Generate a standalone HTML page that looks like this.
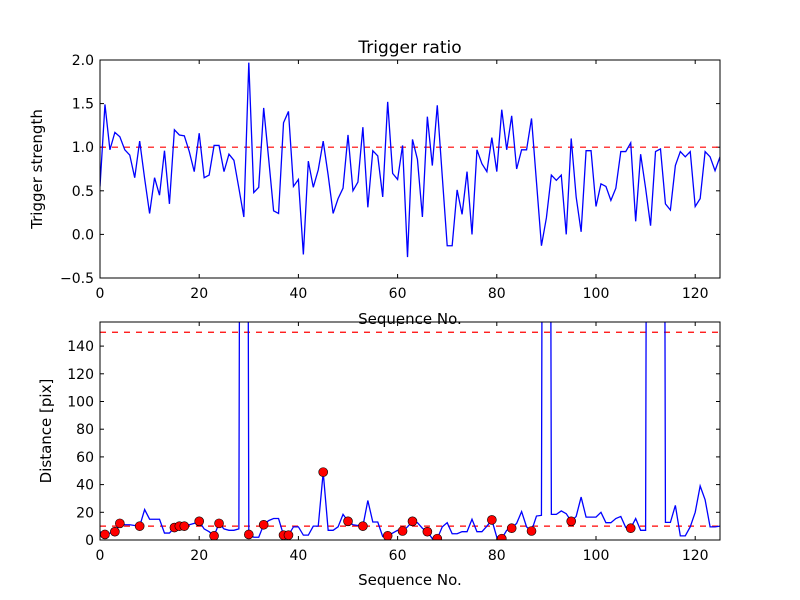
<!DOCTYPE html>
<html><head><meta charset="utf-8"><style>
body{margin:0;background:#fff;}
svg{display:block;font-family:"DejaVu Sans","Liberation Sans",sans-serif;}
</style></head><body>
<svg id="chart" width="800" height="600" viewBox="0 0 800 600" xmlns="http://www.w3.org/2000/svg">
<rect width="800" height="600" fill="#fff"/>
</svg>
<script>
const ratioValues=[0.55,1.49,0.97,1.17,1.12,0.97,0.91,0.65,1.07,0.64,0.24,0.65,0.45,0.96,0.35,1.2,1.14,1.13,0.95,0.72,1.16,0.65,0.68,1.02,1.02,0.72,0.92,0.85,0.53,0.2,1.97,0.48,0.54,1.45,0.87,0.27,0.24,1.28,1.41,0.55,0.63,-0.23,0.84,0.54,0.74,1.07,0.68,0.24,0.41,0.53,1.14,0.5,0.6,1.23,0.31,0.96,0.9,0.43,1.52,0.7,0.63,1.02,-0.26,1.09,0.86,0.2,1.35,0.79,1.48,0.67,-0.13,-0.13,0.51,0.23,0.72,0.0,0.97,0.81,0.72,1.11,0.72,1.43,0.97,1.36,0.75,0.97,0.97,1.33,0.6,-0.13,0.19,0.68,0.62,0.68,0.0,1.1,0.43,0.03,0.96,0.96,0.32,0.58,0.55,0.39,0.53,0.95,0.95,1.05,0.15,0.92,0.53,0.1,0.95,0.98,0.35,0.28,0.79,0.95,0.89,0.95,0.32,0.41,0.95,0.89,0.73,0.89];
const distValues=[6,4,5,6,12,11,11,10.5,10,22,15,15,15,5,5,9,10,10,11,12,13.5,8,6,3,12,8,7,7,8,1500,4,2,2,11,14,15.5,15.5,3.5,3.5,9.5,9.5,3.5,3.5,10,10,49,7,7,9.5,18.5,13.5,11,10.5,10,28.5,13,13,2.5,3,5,7,6.5,9.5,13.5,12.5,8.5,6,1,1,9.5,12.5,4.5,4.5,6,6,15,6,6,10,14.5,2,1,7,8.5,12,20.5,9.5,6.5,17.3,17.8,1500,18.5,18.5,21,19,13.5,17,31,16.5,16.5,16.5,20,12.5,12.5,15.5,17,9,8.5,15.5,7,7,1500,1500,1500,12.7,12.7,25,3,3,9.5,20,39,29,9.5,9.5,10];
const markerIdx=[1,3,4,8,15,16,17,20,23,24,30,33,37,38,45,50,53,58,61,63,66,68,79,81,83,87,95,107];
const xTicks=[0,20,40,60,80,100,120];
const topYTicks=[-0.5,0.0,0.5,1.0,1.5,2.0];
const botYTicks=[0,20,40,60,80,100,120,140];
const ratioThreshold=[1.0];
const distThresholds=[10,150];

const NS="http://www.w3.org/2000/svg";
const svg=document.getElementById('chart');
function el(tag,attrs,parent){const e=document.createElementNS(NS,tag);for(const k in attrs)e.setAttribute(k,attrs[k]);(parent||svg).appendChild(e);return e;}
const L=100,R=720;
const xs=v=>L+(v/125)*(R-L);
const topAx={t:60,b:278,min:-0.5,max:2.0};
const botAx={t:322,b:540,min:0,max:157.4};
const ys=(a,v)=>a.b-(v-a.min)/(a.max-a.min)*(a.b-a.t);

function axes(a,yTicks,fmt,name,clipId){
  const g=el('g',{});
  
  
  const cp=el('clipPath',{id:clipId});el('rect',{x:L,y:a.t,width:R-L,height:a.b-a.t},cp);
  xTicks.forEach(t=>{const x=xs(t);
    el('line',{x1:x,x2:x,y1:a.b,y2:a.b-4,stroke:'#000','stroke-width':1},g);
    el('line',{x1:x,x2:x,y1:a.t,y2:a.t+4,stroke:'#000','stroke-width':1},g);
    const tx=el('text',{x:x,y:a.b+20,'text-anchor':'middle','font-size':14},g);tx.textContent=t;
    
    });
  yTicks.forEach(t=>{const y=ys(a,t);
    el('line',{x1:L,x2:L+4,y1:y,y2:y,stroke:'#000','stroke-width':1},g);
    el('line',{x1:R,x2:R-4,y1:y,y2:y,stroke:'#000','stroke-width':1},g);
    const tx=el('text',{x:L-6,y:y+5,'text-anchor':'end','font-size':14},g);tx.textContent=fmt(t).replace('-','\u2212');
    
    });
  return g;
}
function frame(a){el('rect',{x:L,y:a.t,width:R-L,height:a.b-a.t,fill:'none',stroke:'#000','stroke-width':1});}

axes(topAx,topYTicks,t=>t.toFixed(1),'top','ctop');
ratioThreshold.forEach(v=>{const l=el('line',{x1:L,x2:R,y1:ys(topAx,v),y2:ys(topAx,v),stroke:'#f00','stroke-width':1.2,'stroke-dasharray':'6,6','clip-path':'url(#ctop)'});

});
const p1=el('polyline',{points:ratioValues.map((v,i)=>xs(i)+','+ys(topAx,v)).join(' '),fill:'none',stroke:'#00f','stroke-width':1.3,'clip-path':'url(#ctop)'});


frame(topAx);

axes(botAx,botYTicks,t=>String(t),'bottom','cbot');
distThresholds.forEach(v=>{const l=el('line',{x1:L,x2:R,y1:ys(botAx,v),y2:ys(botAx,v),stroke:'#f00','stroke-width':1.2,'stroke-dasharray':'6,6','clip-path':'url(#cbot)'});

});
const p2=el('polyline',{points:distValues.map((v,i)=>xs(i)+','+ys(botAx,v)).join(' '),fill:'none',stroke:'#00f','stroke-width':1.3,'clip-path':'url(#cbot)'});


markerIdx.forEach(i=>{const c=el('circle',{cx:xs(i),cy:ys(botAx,distValues[i]),r:4.5,fill:'#f00',stroke:'#000','stroke-width':0.6,'clip-path':'url(#cbot)'});

});
frame(botAx);

function txt(s,attrs,name){const t=el('text',attrs);t.textContent=s;return t;}
txt('Trigger ratio',{x:410,y:53,'text-anchor':'middle','font-size':17},'chart-title');
txt('Sequence No.',{x:410,y:324,'text-anchor':'middle','font-size':15},'top-x-axis-title');
txt('Sequence No.',{x:410,y:585,'text-anchor':'middle','font-size':15},'bottom-x-axis-title');
txt('Trigger strength',{x:0,y:0,'text-anchor':'middle','font-size':15,transform:'translate(42,169) rotate(-90)'},'top-y-axis-title');
txt('Distance [pix]',{x:0,y:0,'text-anchor':'middle','font-size':15,transform:'translate(51,431) rotate(-90)'},'bottom-y-axis-title');
</script>
</body></html>
